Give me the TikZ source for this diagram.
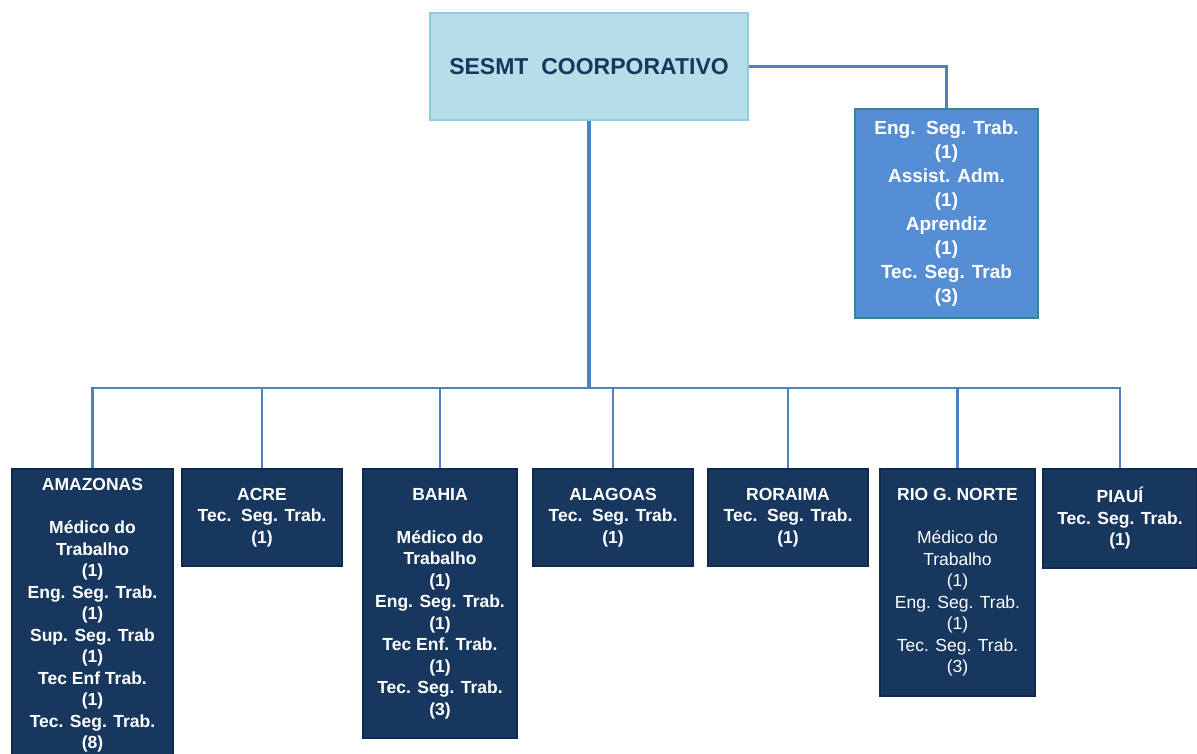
\documentclass[tikz,border=0pt]{standalone}
\usepackage{fontspec}
\setmainfont{Liberation Sans}
\definecolor{topfill}{HTML}{B7DEE8}
\definecolor{topline}{HTML}{93CDDD}
\definecolor{stafffill}{HTML}{558ED5}
\definecolor{staffline}{HTML}{31859C}
\definecolor{unitfill}{HTML}{17375E}
\definecolor{unitline}{HTML}{0F2850}
\definecolor{wirecol}{HTML}{4F81BD}
\definecolor{titletext}{HTML}{17375E}
\begin{document}
\begin{tikzpicture}[x=1pt, y=-1pt,
	topbox/.style={draw=topline, line width=2.5pt, fill=topfill, text=titletext,
		font=\fontsize{23}{27}\selectfont\bfseries, minimum width=318pt, minimum height=107pt, inner sep=0pt},
	staffbox/.style={draw=staffline, line width=2.5pt, fill=stafffill, text=white,
		font=\fontsize{19}{24}\selectfont\bfseries, align=center, minimum width=183pt, minimum height=209pt, inner sep=0pt},
	unitbox/.style={draw=unitline, line width=2pt, fill=unitfill, text=white,
		font=\fontsize{17.5}{21.5}\selectfont\bfseries, align=center, inner sep=0pt},
	wire/.style={draw=wirecol, line width=2.5pt}]
	\useasboundingbox (0,0) rectangle (1197,754);
	\node[topbox] (sesmt) at (589,66.5) {SESMT\ \ COORPORATIVO};
	\node[staffbox] (staff) at (946.5,213.5) {Eng.\ \ Seg. Trab.\\(1)\\Assist. Adm.\\(1)\\Aprendiz\\(1)\\Tec. Seg. Trab\\(3)};
	\coordinate (bus) at (589,388);
	\node[unitbox, minimum width=161pt, minimum height=293pt] (amazonas) at (92.5,615.5)
		{AMAZONAS\\[21.5pt]Médico do\\Trabalho\\(1)\\Eng. Seg. Trab.\\(1)\\Sup. Seg. Trab\\(1)\\Tec Enf Trab.\\(1)\\Tec. Seg. Trab.\\(8)};
	\node[unitbox, minimum width=160pt, minimum height=97pt] (acre) at (262,517.5)
		{ACRE\\Tec.\ \ Seg. Trab.\\(1)};
	\node[unitbox, minimum width=154pt, minimum height=269pt] (bahia) at (440,603.5)
		{BAHIA\\[21.5pt]Médico do\\Trabalho\\(1)\\Eng. Seg. Trab.\\(1)\\Tec Enf. Trab.\\(1)\\Tec. Seg. Trab.\\(3)};
	\node[unitbox, minimum width=160pt, minimum height=97pt] (alagoas) at (613,517.5)
		{ALAGOAS\\Tec.\ \ Seg. Trab.\\(1)};
	\node[unitbox, minimum width=160pt, minimum height=97pt] (roraima) at (788,517.5)
		{RORAIMA\\Tec.\ \ Seg. Trab.\\(1)};
	\node[unitbox, minimum width=155pt, minimum height=227pt] (rio) at (957.5,582.5)
		{RIO G. NORTE\\[21.5pt]\mdseries Médico do\\\mdseries Trabalho\\\mdseries (1)\\\mdseries Eng. Seg. Trab.\\\mdseries (1)\\\mdseries Tec. Seg. Trab.\\\mdseries (3)};
	\node[unitbox, minimum width=154pt, minimum height=99pt] (piaui) at (1120,518.5)
		{PIAUÍ\\Tec. Seg. Trab.\\(1)};
	\draw[wire, line width=3.5pt] (sesmt.south) -- (bus);
	\draw[wire] (sesmt.east) -| (staff.north);
	\foreach \unit in {amazonas,acre,bahia,alagoas,roraima,rio,piaui}
		\draw[wire] (bus) -| (\unit.north);
\end{tikzpicture}
\end{document}
